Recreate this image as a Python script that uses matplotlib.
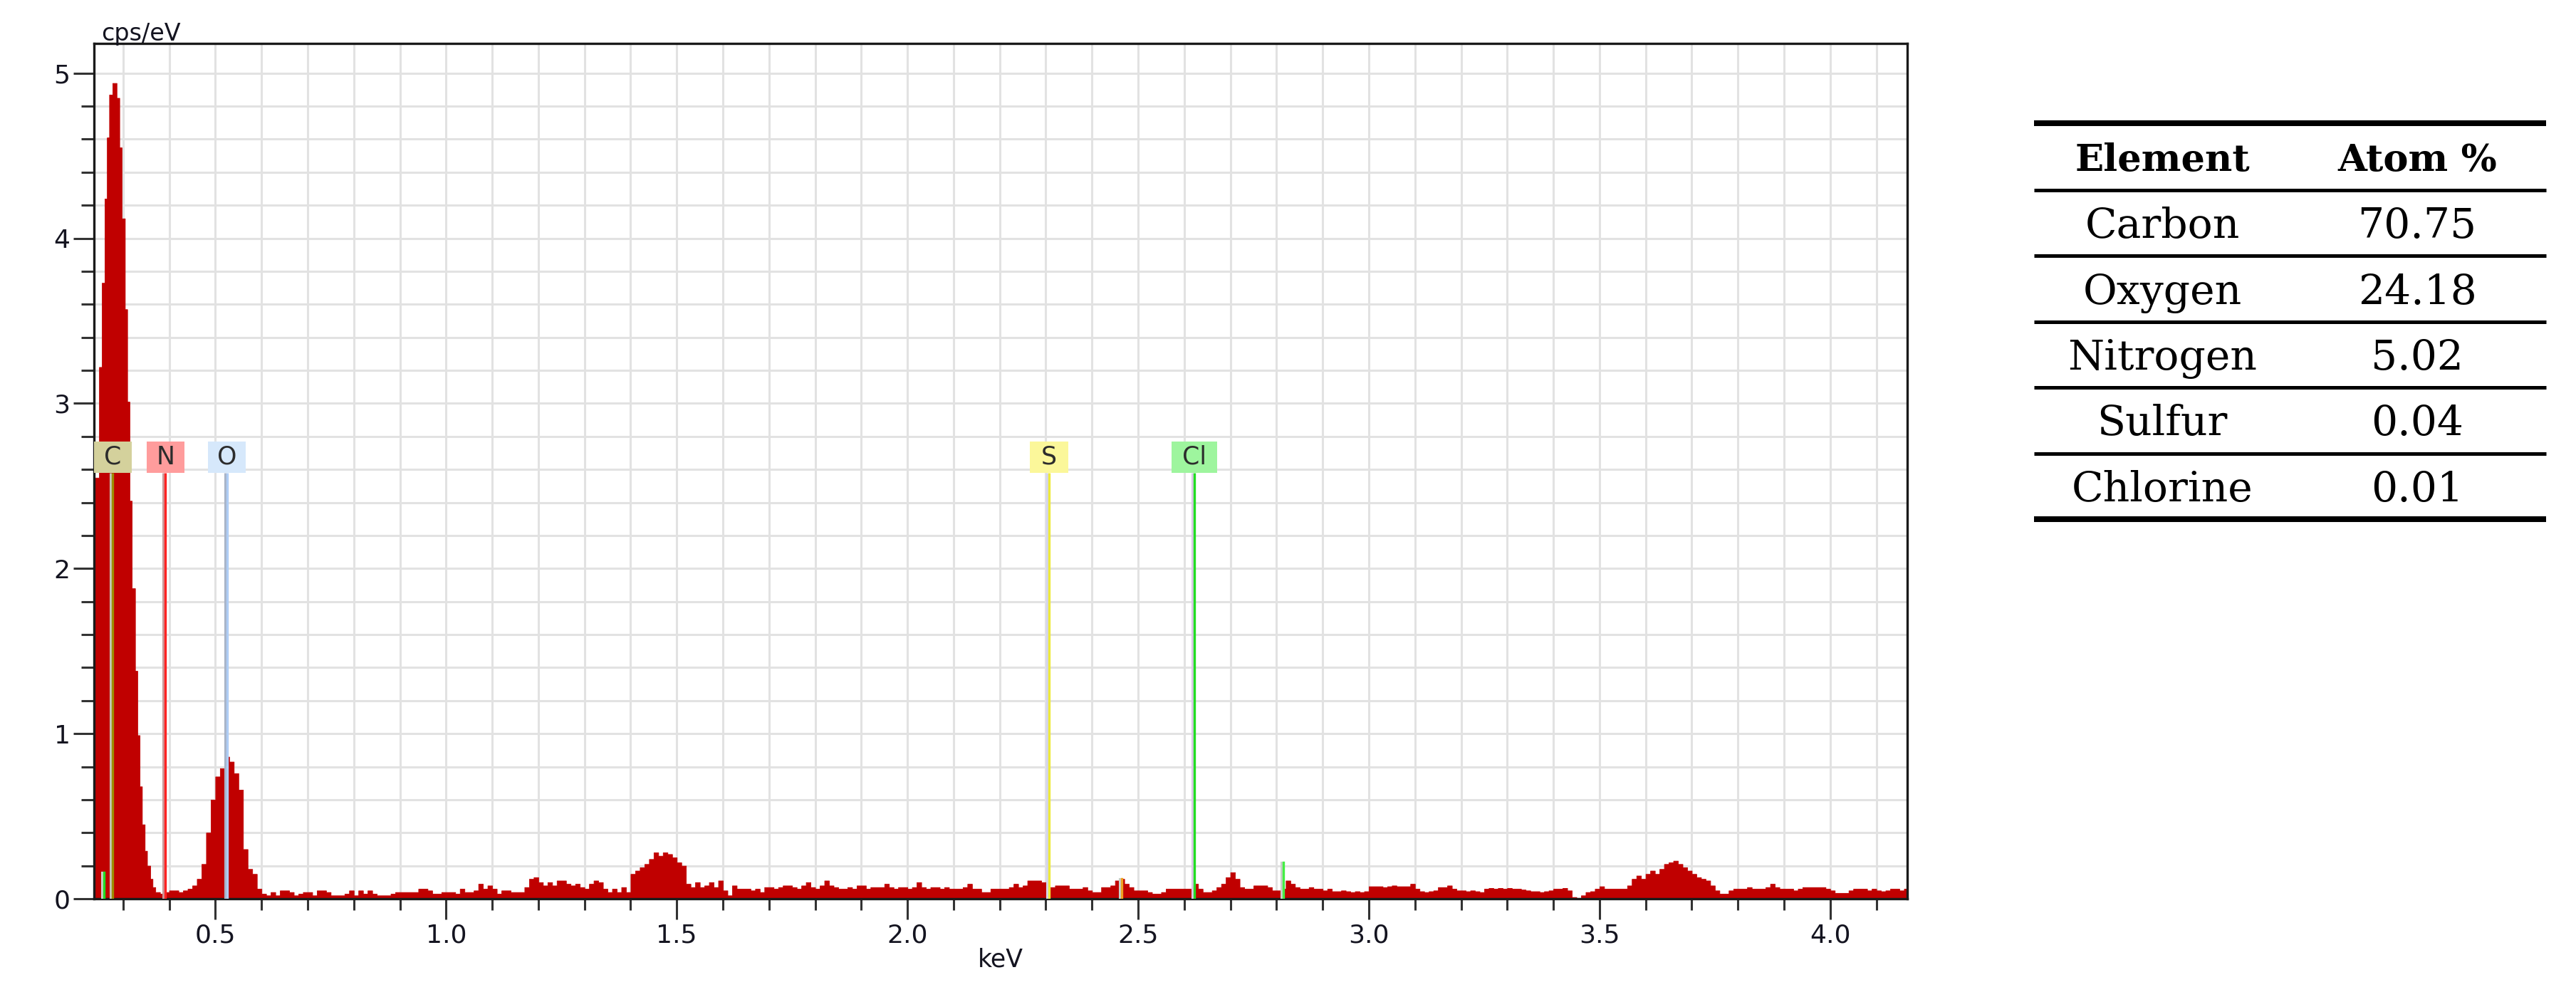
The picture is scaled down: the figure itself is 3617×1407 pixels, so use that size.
import numpy as np
import matplotlib.pyplot as plt
from matplotlib.patches import Rectangle
from matplotlib.transforms import offset_copy

# EDS spectrum (cps/eV)
# carbon peak, at the channel edges seen in the picture (keV)
c_peak_edges = [0.238, 0.248, 0.254, 0.260, 0.265, 0.270, 0.277, 0.286, 0.292,
                0.297, 0.304, 0.309, 0.314, 0.319, 0.326, 0.331, 0.336, 0.341,
                0.347, 0.352, 0.359, 0.364, 0.370]
c_peak_cps = [2.55, 3.22, 3.73, 4.24, 4.61, 4.87, 4.94, 4.85, 4.55, 4.12, 3.57,
              3.01, 2.41, 1.88, 1.38, 0.99, 0.68, 0.45, 0.29, 0.20, 0.12, 0.07]

# rest of the spectrum in 0.01 keV bins, from 0.37 keV on
rest_start = 0.37
rest_step = 0.01
rest_cps = [
    0.04, 0.03, 0.04,                                              # 0.37
    0.05, 0.05, 0.04, 0.05, 0.06, 0.08, 0.12, 0.21, 0.40, 0.60,    # 0.40
    0.74, 0.79, 0.86, 0.83, 0.76, 0.66, 0.30, 0.18, 0.15, 0.06,    # 0.50
    0.03, 0.02, 0.04, 0.02, 0.05, 0.05, 0.04, 0.02, 0.03, 0.04,    # 0.60
    0.04, 0.02, 0.05, 0.05, 0.04, 0.02, 0.02, 0.02, 0.03, 0.05,    # 0.70
    0.02, 0.05, 0.03, 0.05, 0.03, 0.02, 0.02, 0.02, 0.03, 0.04,    # 0.80
    0.04, 0.04, 0.04, 0.04, 0.06, 0.06, 0.05, 0.03, 0.03, 0.04,    # 0.90
    0.04, 0.04, 0.03, 0.06, 0.04, 0.04, 0.05, 0.09, 0.06, 0.08,    # 1.00
    0.06, 0.03, 0.05, 0.05, 0.04, 0.04, 0.04, 0.07, 0.12, 0.13,    # 1.10
    0.10, 0.08, 0.10, 0.08, 0.11, 0.11, 0.09, 0.08, 0.09, 0.07,    # 1.20
    0.06, 0.09, 0.11, 0.10, 0.06, 0.04, 0.06, 0.04, 0.07, 0.04,    # 1.30
    0.15, 0.17, 0.19, 0.21, 0.24, 0.28, 0.26, 0.28, 0.27, 0.25,    # 1.40
    0.22, 0.20, 0.09, 0.07, 0.10, 0.07, 0.08, 0.10, 0.07, 0.11,    # 1.50
    0.05, 0.02, 0.08, 0.06, 0.06, 0.06, 0.05, 0.06, 0.04, 0.07,    # 1.60
    0.07, 0.06, 0.07, 0.08, 0.08, 0.07, 0.06, 0.08, 0.10, 0.07,    # 1.70
    0.06, 0.08, 0.11, 0.08, 0.07, 0.06, 0.06, 0.07, 0.06, 0.08,    # 1.80
    0.08, 0.06, 0.07, 0.07, 0.07, 0.09, 0.07, 0.06, 0.07, 0.07,    # 1.90
    0.06, 0.07, 0.10, 0.07, 0.06, 0.07, 0.07, 0.06, 0.07, 0.06,    # 2.00
    0.06, 0.06, 0.07, 0.09, 0.06, 0.06, 0.04, 0.04, 0.06, 0.06,    # 2.10
    0.06, 0.06, 0.07, 0.09, 0.07, 0.08, 0.11, 0.11, 0.11, 0.10,    # 2.20
    0.06, 0.07, 0.08, 0.08, 0.08, 0.06, 0.06, 0.06, 0.07, 0.05,    # 2.30
    0.04, 0.04, 0.07, 0.07, 0.08, 0.11, 0.12, 0.09, 0.07, 0.05,    # 2.40
    0.05, 0.05, 0.04, 0.03, 0.03, 0.04, 0.06, 0.06, 0.06, 0.06,    # 2.50
    0.06, 0.06, 0.09, 0.06, 0.04, 0.04, 0.05, 0.07, 0.09, 0.13,    # 2.60
    0.16, 0.12, 0.07, 0.06, 0.06, 0.08, 0.08, 0.08, 0.07, 0.05,    # 2.70
    0.05, 0.06, 0.11, 0.09, 0.07, 0.06, 0.06, 0.07, 0.06, 0.06,    # 2.80
    0.05, 0.06, 0.045, 0.045, 0.05, 0.045, 0.04, 0.045, 0.04, 0.045,  # 2.90
    0.075, 0.075, 0.075, 0.07, 0.075, 0.08, 0.075, 0.075, 0.075, 0.09,  # 3.00
    0.06, 0.045, 0.04, 0.045, 0.05, 0.07, 0.07, 0.08, 0.06, 0.05,  # 3.10
    0.05, 0.045, 0.05, 0.045, 0.04, 0.06, 0.065, 0.06, 0.065, 0.06,  # 3.20
    0.065, 0.06, 0.06, 0.055, 0.05, 0.045, 0.045, 0.04, 0.045, 0.05,  # 3.30
    0.06, 0.06, 0.065, 0.05, 0.01, 0.005, 0.02, 0.04, 0.045, 0.06,  # 3.40
    0.075, 0.06, 0.06, 0.06, 0.06, 0.06, 0.08, 0.12, 0.14, 0.12,   # 3.50
    0.15, 0.17, 0.15, 0.18, 0.21, 0.22, 0.23, 0.21, 0.19, 0.17,    # 3.60
    0.15, 0.13, 0.12, 0.11, 0.08, 0.05, 0.03, 0.03, 0.05, 0.06,    # 3.70
    0.06, 0.06, 0.07, 0.06, 0.06, 0.06, 0.07, 0.09, 0.07, 0.06,    # 3.80
    0.06, 0.06, 0.05, 0.06, 0.07, 0.07, 0.07, 0.07, 0.07, 0.06,    # 3.90
    0.05, 0.035, 0.035, 0.035, 0.05, 0.06, 0.06, 0.06, 0.05, 0.06,  # 4.00
    0.05, 0.045, 0.05, 0.06, 0.06, 0.05, 0.06,                     # 4.10
]

# element markers
line_kev = [0.277, 0.392, 0.525, 2.307, 2.622]
line_names = ['C', 'N', 'O', 'S', 'Cl']
line_colors = ['#9c8c00', '#ff2222', '#aecdf5', '#eeea3a', '#22dd22']
shadow_colors = ['#c4c4b4', '#cc9a9a', '#a8b4c8', '#d4d4ee', '#d8c8e4']
box_colors = ['#d4d19c', '#ff9c9c', '#d6e8fb', '#fbf79a', '#9ef59e']

# small escape/K-beta ticks
small_kev = [0.259, 2.464, 2.815]
small_cps = [0.16, 0.12, 0.22]
small_colors = ['#22dd22', '#f0a020', '#44ee44']

# quantification table
elements = ['Carbon', 'Oxygen', 'Nitrogen', 'Sulfur', 'Chlorine']
atom_pct = ['70.75', '24.18', '5.02', '0.04', '0.01']

rest_edges = np.round(rest_start + rest_step * np.arange(len(rest_cps) + 1), 3)
edges = np.concatenate([c_peak_edges, rest_edges[1:]])
cps = np.concatenate([c_peak_cps, rest_cps])

fig = plt.figure(figsize=(36.17, 14.07), dpi=100)
ax = fig.add_axes([132 / 3617, 1 - 1262 / 1407, (2678 - 132) / 3617, (1262 - 61) / 1407])

# one step polygon, so no seams between channels
ax.fill_between(edges, np.append(cps, cps[-1]), step='post',
                facecolor='#c00000', edgecolor='#c00000', lw=0.6, zorder=2)

ax.set_xlim(0.237, 4.167)
ax.set_ylim(0, 5.18)
ax.set_xticks(np.arange(0.5, 4.01, 0.5))
ax.set_xticklabels([f'{v:.1f}' for v in np.arange(0.5, 4.01, 0.5)])
ax.set_xticks(np.arange(0.3, 4.11, 0.1), minor=True)
ax.set_yticks(range(6))
ax.set_yticks(np.arange(0.2, 5.1, 0.2), minor=True)
ax.grid(which='both', color='#e2e2e2', lw=2.2)
ax.set_axisbelow(True)

ax.tick_params(which='major', length=21, width=2.2, color='#333333',
               labelsize=26, labelcolor='#141420')
ax.tick_params(axis='x', which='major', pad=4)
ax.tick_params(axis='y', which='major', pad=3)
ax.tick_params(axis='x', which='minor', length=11.5, width=2.2, color='#333333')
ax.tick_params(axis='y', which='minor', length=13, width=2.2, color='#333333')
for sp in ax.spines.values():
    sp.set_linewidth(2.4)
    sp.set_color('#1a1a1a')

# marker lines with their faint left shadow, then the label boxes
shadow = offset_copy(ax.transData, fig=fig, x=-3, y=0, units='dots')
box_bottom, box_h = 2.58, 0.19
for e, name, lc, sc, bc in zip(line_kev, line_names, line_colors, shadow_colors, box_colors):
    ax.plot([e, e], [0, box_bottom], color=sc, lw=2.2, transform=shadow, zorder=3,
            solid_capstyle='butt')
    ax.plot([e, e], [0, box_bottom], color=lc, lw=2.4, zorder=3, solid_capstyle='butt')
    w = 0.1 if len(name) > 1 else 0.083
    ax.add_patch(Rectangle((e - w / 2, box_bottom), w, box_h, facecolor=bc,
                           edgecolor='none', zorder=4, clip_on=True))
    ax.text(e, box_bottom + box_h / 2, name, ha='center', va='center',
            fontsize=25, color='#2c2c2c', zorder=5)

for e, h, c in zip(small_kev, small_cps, small_colors):
    ax.plot([e, e], [0, h], color='#c8d0c8', lw=2.2, transform=shadow, zorder=3)
    ax.plot([e, e], [0, h], color=c, lw=2.4, zorder=3)

fig.text(198 / 3617, 1 - 47 / 1407, 'cps/eV', ha='center', va='center',
         fontsize=24, color='#141420')
fig.text(1405 / 3617, 1 - 1348 / 1407, 'keV', ha='center', va='center',
         fontsize=25, color='#141420')

# table drawn in pixel coordinates of the figure
tax = fig.add_axes([0, 0, 1, 1])
tax.set_xlim(0, 3617)
tax.set_ylim(1407, 0)
tax.axis('off')
x0, x1 = 2856, 3575
col1, col2 = 3036, 3394
top, head, bottom = 173, 267, 729
pitch = (bottom - head) / len(elements)
tax.hlines([top, bottom], x0, x1, color='black', lw=5.8)
tax.hlines([head + pitch * k for k in range(len(elements))], x0, x1, color='black', lw=3.6)
tax.text(col1, (top + head) / 2 + 20, 'Element', ha='center', va='baseline',
         family='DejaVu Serif', fontweight='bold', fontsize=38)
tax.text(col2, (top + head) / 2 + 20, 'Atom %', ha='center', va='baseline',
         family='DejaVu Serif', fontweight='bold', fontsize=38)
for k, (el, p) in enumerate(zip(elements, atom_pct)):
    yc = head + pitch * (k + 0.5) + 21
    tax.text(col1, yc, el, ha='center', va='baseline', family='DejaVu Serif', fontsize=42)
    tax.text(col2, yc, p, ha='center', va='baseline', family='DejaVu Serif', fontsize=42)

plt.savefig('out.png', dpi=100)
